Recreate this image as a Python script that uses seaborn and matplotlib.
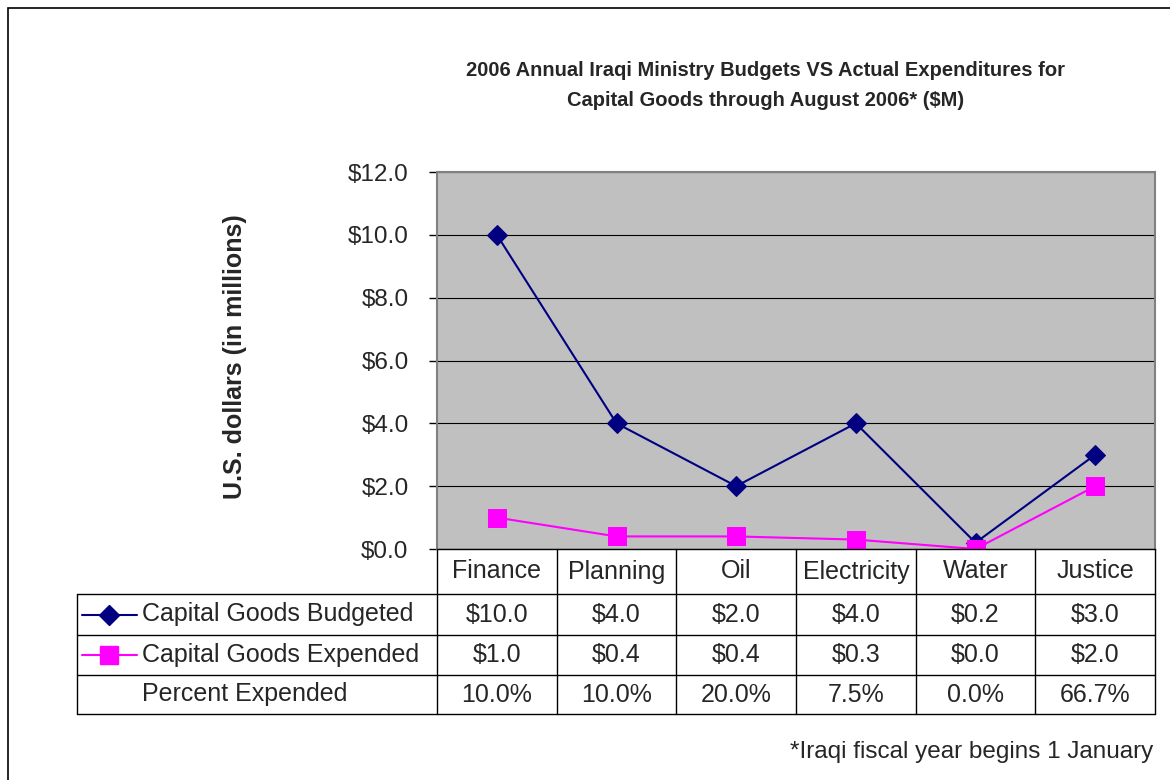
import numpy as np
import pandas as pd
import matplotlib
matplotlib.use("Agg")
import matplotlib.pyplot as plt
import seaborn as sns
from matplotlib.lines import Line2D
from matplotlib.patches import Rectangle

ministries = ["Finance", "Planning", "Oil", "Electricity", "Water", "Justice"]
budgeted = [10.0, 4.0, 2.0, 4.0, 0.2, 3.0]
expended = [1.0, 0.4, 0.4, 0.3, 0.0, 2.0]
percent_labels = ["10.0%", "10.0%", "20.0%", "7.5%", "0.0%", "66.7%"]
yticks = [0, 2, 4, 6, 8, 10, 12]

sns.set_style("white")
plt.rcParams["font.family"] = ["Liberation Sans", "DejaVu Sans"]

W, H = 1170, 780
fig = plt.figure(figsize=(W / 100, H / 100), dpi=100)

# plot area in pixel terms
px_l, px_r, px_t, px_b = 437, 1155, 172, 549
ax = fig.add_axes([px_l / W, 1 - px_b / H, (px_r - px_l) / W, (px_b - px_t) / H])
ax.set_facecolor("#C0C0C0")

df = pd.DataFrame({"ministry": ministries, "budgeted": budgeted, "expended": expended})

sns.lineplot(data=df, x="ministry", y="budgeted", sort=False, color="#000080",
             marker="D", markersize=10, markeredgecolor="#000080", linewidth=1.5, ax=ax)
sns.lineplot(data=df, x="ministry", y="expended", sort=False, color="#FF00FF",
             marker="s", markersize=13, markeredgecolor="#FF00FF", linewidth=1.5, ax=ax)

ax.set_xlim(-0.5, len(ministries) - 0.5)
ax.set_ylim(0, 12)
ax.set_yticks(yticks)
ax.set_yticklabels([f"${v:.1f}" for v in yticks], fontsize=17.5)
ax.tick_params(axis="y", direction="out", length=6, width=1, color="black", pad=14.5, left=True)
ax.tick_params(axis="x", bottom=False, labelbottom=False)
ax.set_xlabel("")
ax.set_ylabel("")
ax.yaxis.grid(True, color="black", linewidth=0.8)
ax.set_axisbelow(True)
for side, sp in ax.spines.items():
    sp.set_visible(True)
    sp.set_color("#808080")
    sp.set_linewidth(1.5)
ax.spines["bottom"].set_color("black")
ax.spines["bottom"].set_linewidth(1)

# data table below the plot, x in data units, y in axes fraction
tr = ax.get_xaxis_transform()
ppu = (px_r - px_l) / len(ministries)
ah = px_b - px_t
x_left = -0.5 - (px_l - 77) / ppu
row_px = [549, 594, 635, 675, 714]
row_y = [(px_b - r) / ah for r in row_px]
x_right = len(ministries) - 0.5
lkw = dict(transform=tr, clip_on=False, color="black", linewidth=1)

for yy in row_y[1:]:
    ax.add_line(Line2D([x_left, x_right], [yy, yy], **lkw))
ax.add_line(Line2D([x_left, x_left], [row_y[1], row_y[-1]], **lkw))
for k in range(len(ministries) + 1):
    ax.add_line(Line2D([k - 0.5, k - 0.5], [row_y[0], row_y[-1]], **lkw))

def mid(a, b):
    return (row_y[a] + row_y[b]) / 2

fs = 18
for i, name in enumerate(ministries):
    ax.text(i, mid(0, 1), name, transform=tr, ha="center", va="center", fontsize=fs)
    ax.text(i, mid(1, 2), f"${budgeted[i]:.1f}", transform=tr, ha="center", va="center", fontsize=fs)
    ax.text(i, mid(2, 3), f"${expended[i]:.1f}", transform=tr, ha="center", va="center", fontsize=fs)
    ax.text(i, mid(3, 4), percent_labels[i], transform=tr, ha="center", va="center", fontsize=fs)

# row labels with legend keys
x_line0 = x_left + 5 / ppu
x_line1 = x_left + 60 / ppu
x_mark = x_left + 32 / ppu
x_text = x_left + 65 / ppu
ax.add_line(Line2D([x_line0, x_line1], [mid(1, 2)] * 2, transform=tr, clip_on=False,
                   color="#000080", linewidth=1.5))
ax.add_line(Line2D([x_mark], [mid(1, 2)], transform=tr, clip_on=False, marker="D",
                   markersize=10, color="#000080"))
ax.add_line(Line2D([x_line0, x_line1], [mid(2, 3)] * 2, transform=tr, clip_on=False,
                   color="#FF00FF", linewidth=1.5))
ax.add_line(Line2D([x_mark], [mid(2, 3)], transform=tr, clip_on=False, marker="s",
                   markersize=13, color="#FF00FF"))
ax.text(x_text, mid(1, 2), "Capital Goods Budgeted", transform=tr, ha="left", va="center", fontsize=fs)
ax.text(x_text, mid(2, 3), "Capital Goods Expended", transform=tr, ha="left", va="center", fontsize=fs)
ax.text(x_text, mid(3, 4), "Percent Expended", transform=tr, ha="left", va="center", fontsize=fs)

# titles and notes
fig.text(766 / W, 1 - 70 / H, "2006 Annual Iraqi Ministry Budgets VS Actual Expenditures for",
         ha="center", va="center", fontsize=14.5, fontweight="bold")
fig.text(766 / W, 1 - 100 / H, "Capital Goods through August 2006* ($M)",
         ha="center", va="center", fontsize=14.5, fontweight="bold")
fig.text(235 / W, 1 - 357 / H, "U.S. dollars (in millions)", rotation=90,
         ha="center", va="center", fontsize=18, fontweight="bold")
fig.text(1153 / W, 1 - 752 / H, "*Iraqi fiscal year begins 1 January",
         ha="right", va="center", fontsize=17.5)

# outer chart border
fig.patches.append(Rectangle((8 / W, -0.1), 1.2, 1.1 - 8 / H, transform=fig.transFigure,
                             fill=False, edgecolor="black", linewidth=1.2))

fig.savefig("out.png", dpi=100)
